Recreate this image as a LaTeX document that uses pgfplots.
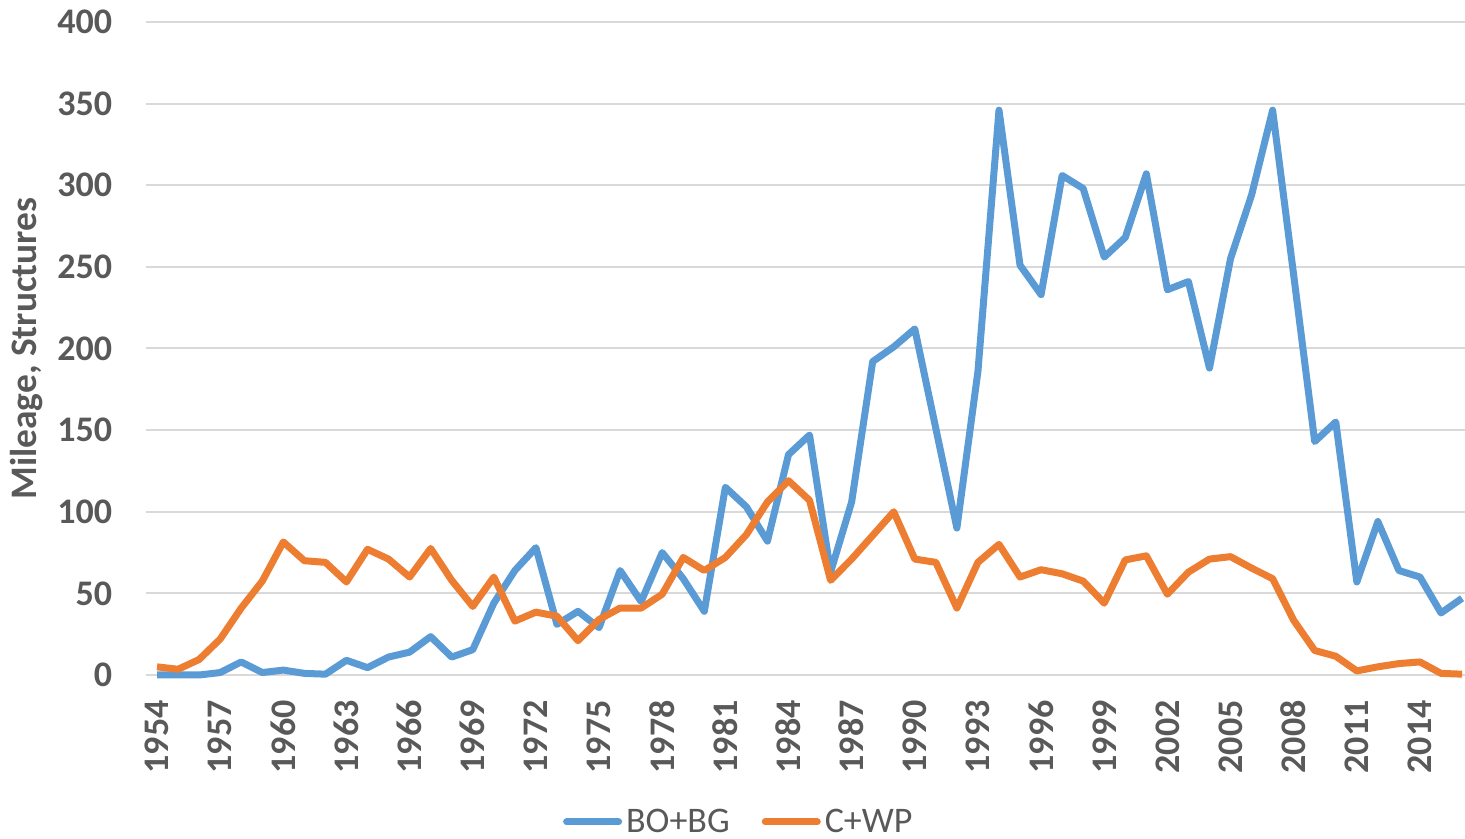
\documentclass[border=0pt]{standalone}
\usepackage{pgfplots}
\pgfplotsset{compat=1.18}
\usepackage{pgfplotstable}
\usepackage{fontspec}
\setmainfont{Carlito}
\definecolor{cblue}{HTML}{5B9BD5}
\definecolor{corange}{HTML}{ED7D31}
\definecolor{cgrid}{HTML}{D9D9D9}
\definecolor{ctext}{HTML}{595959}

\pgfplotstableread{
year val
1954 0
1955 0
1956 0
1957 1.5
1958 8
1959 1.5
1960 3
1961 1
1962 0.5
1963 9
1964 4.5
1965 11
1966 14
1967 23.5
1968 11
1969 15.5
1970 44
1971 64
1972 78
1973 31
1974 39
1975 29
1976 64
1977 45
1978 75
1979 59
1980 39
1981 115
1982 103
1983 82
1984 135
1985 147
1986 63
1987 106
1988 192
1989 201
1990 212
1991 151
1992 90
1993 186
1994 346
1995 251
1996 233
1997 306
1998 298
1999 256
2000 268
2001 307
2002 236
2003 241
2004 188
2005 255
2006 294
2007 346
2008 245
2009 143
2010 155
2011 57
2012 94
2013 64
2014 60
2015 38
2016 47
}\boblg

\pgfplotstableread{
year val
1954 5
1955 3.5
1956 9.5
1957 22
1958 41
1959 57.5
1960 81.5
1961 70
1962 69
1963 57
1964 77
1965 71
1966 60
1967 77.5
1968 58
1969 42
1970 60
1971 33
1972 38.5
1973 36
1974 21
1975 34
1976 41
1977 41
1978 49.5
1979 72
1980 64
1981 72
1982 86
1983 106
1984 119
1985 107
1986 58
1987 71
1988 85.5
1989 100
1990 71
1991 69
1992 41
1993 69
1994 80
1995 60
1996 64.5
1997 62
1998 57.5
1999 44
2000 70.5
2001 73
2002 49.5
2003 63
2004 71
2005 72.5
2006 65.5
2007 59
2008 33.5
2009 15
2010 11.5
2011 2.5
2012 5
2013 7
2014 8
2015 1
2016 0.5
}\cwp

\begin{document}
\begin{tikzpicture}
\begin{axis}[
  at={(0,0)}, anchor=south west,
  scale only axis,
  width=659.25pt, height=326.5pt,
  xmin=1953.5, xmax=2016.14,
  ymin=0, ymax=400,
  ytick={0,50,...,400},
  xtick={1954,1957,...,2014},
  axis line style={draw=none},
  tick style={draw=none},
  ymajorgrids,
  grid style={cgrid, line width=1pt},
  /pgf/number format/assume math mode=true,
  /pgf/number format/1000 sep={},
  every tick label/.append style={font=\fontsize{18}{20}\selectfont\bfseries, text=ctext},
  yticklabel style={anchor=east, inner sep=0pt, xshift=-17pt},
  xticklabel style={yshift=-12.5pt, rotate=90, anchor=east, inner sep=0pt},
  xticklabel={\pgfmathprintnumber[precision=0,fixed,1000 sep={}]{\tick}},
  legend style={at={(0.45,-0.225)}, anchor=center, legend columns=2, draw=none, fill=none,
    font=\fontsize{18}{20}\selectfont, text=ctext,
    /tikz/every even column/.append style={column sep=14pt}},
  legend image code/.code={\draw[#1, line cap=round] (0pt,0pt) -- (26pt,0pt);},
  clip=false,
]
\addplot[cblue, line width=3.5pt, line join=round] table[x=year, y=val] {\boblg};
\addlegendentry{BO+BG}
\addplot[corange, line width=3.5pt, line join=round] table[x=year, y=val] {\cwp};
\addlegendentry{C+WP}
\node[xshift=-59.75pt, rotate=90, anchor=center, font=\fontsize{18.7}{20}\selectfont\bfseries, text=ctext]
  at (rel axis cs:0,0.5) {Mileage, Structures};
\end{axis}
\pgfresetboundingbox
\useasboundingbox (-73.25pt,-82pt) rectangle (659.25pt,337.5pt);
\end{tikzpicture}
\end{document}
